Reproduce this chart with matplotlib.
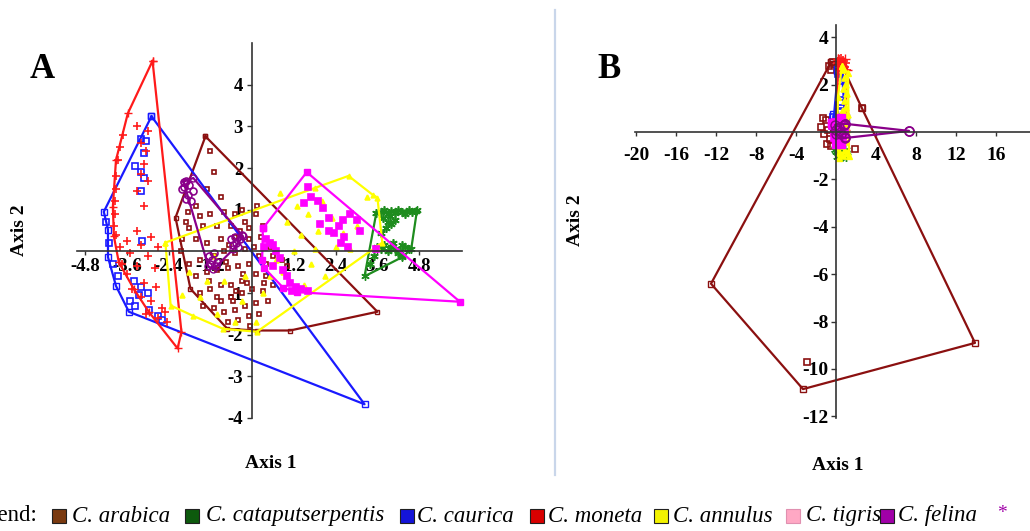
import matplotlib
matplotlib.use("Agg")
import matplotlib.pyplot as plt
from matplotlib.patches import Rectangle
from matplotlib.lines import Line2D

W, H = 1030, 531
plt.rcParams["font.family"] = ["Liberation Serif", "DejaVu Serif"]
plt.rcParams["axes.unicode_minus"] = False

# ---------------- panel A : points + convex hulls ----------------
arabica_x = [-1.2, -1.1, -1.3, -0.9, -1.6, -1.85, -1.5, -1.2, -0.8, -0.5, -0.3, 0.1, 0.15, -0.2, -0.6,
             -1.0, -1.4, -1.8, -2.0, -1.6, -1.3, -0.9, -0.5, -0.1, 0.25, 0.5, 0.6, 0.85, 1.0, 0.4,
             0.2, -0.2, -0.5, -0.8, -1.1, -1.5, -1.8, -1.6, -1.3, -1.0, -0.7, -0.4, -0.1, 0.1, 0.4,
             -0.3, -0.6, -0.9, -1.2, -1.5, -1.0, -0.6, -0.3, 0.0, 0.3, 0.6, 0.45, 0.1, -0.2, -0.5,
             -0.8, -1.1, -0.7, -0.4, -0.1, 0.2, -0.05, -0.9, -1.4, -0.35, -0.1, 0.3, -1.9, -2.05, -0.25,
             0.05, -0.65, -0.75, -0.45, -1.25, 0.35, -0.15, -0.55]
arabica_y = [2.4, 1.9, 1.5, 1.3, 1.1, 0.95, 0.85, 0.9, 0.95, 0.9, 1.0, 0.9, 1.1, 0.7, 0.6,
             0.6, 0.6, 0.55, 0.3, 0.3, 0.2, 0.3, 0.35, 0.3, 0.35, 0.1, -0.1, -0.2, -0.35, -0.3,
             -0.1, 0.05, -0.05, 0.0, -0.1, -0.2, -0.3, -0.6, -0.5, -0.45, -0.4, -0.35, -0.3, -0.55, -0.6,
             -0.7, -0.8, -0.8, -0.9, -1.0, -1.1, -1.1, -1.0, -0.9, -0.95, -0.8, -1.2, -1.25, -1.3, -1.4,
             -1.45, -1.35, -1.7, -1.65, -1.55, -1.5, -1.8, -1.2, -1.3, 0.5, 0.55, 0.6, 0.7, 0.0, -0.55,
             0.1, 0.15, -0.25, -0.95, -0.7, -0.75, -0.75, -1.2]
arabica_hull_x = [-1.34, -2.2, -1.77, -0.71, 0.14, 1.09, 3.6]
arabica_hull_y = [2.76, 0.81, -0.9, -1.86, -1.9, -1.9, -1.45]

cataput_x = [3.7, 3.8, 3.9, 4.0, 4.1, 4.2, 4.3, 4.4, 4.5, 4.6, 4.7, 3.75, 3.9, 3.85, 4.0, 3.7, 4.1,
             3.95, 3.6, 3.7, 3.8, 3.9, 4.0, 4.1, 4.2, 4.3, 4.4, 4.5, 3.5, 3.4, 4.3, 4.05, 4.25]
cataput_y = [0.95, 1.0, 0.9, 0.98, 0.92, 1.0, 0.95, 0.9, 1.0, 0.95, 0.97, 0.8, 0.7, 0.55, 0.65, 0.45, 0.75,
             0.85, 0.1, 0.05, 0.15, 0.0, 0.1, 0.05, -0.05, 0.15, 0.1, 0.05, -0.1, -0.3, -0.1, 0.2, 0.0]
cataput_hull_x = [3.57, 4.74, 4.57, 4.31, 3.23]
cataput_hull_y = [0.93, 1.0, 0.05, -0.14, -0.6]

caurica_x = [-3.2, -3.05, -3.1, -3.35, -3.2, -3.1, -3.2, -3.15, -4.1, -4.0, -3.85, -3.4, -3.2,
             -3.0, -3.25, -3.5, -3.35, -2.95, -2.7, -4.2, -2.6]
caurica_y = [2.7, 2.65, 2.35, 2.05, 1.9, 1.75, 1.45, 0.25, 0.2, -0.3, -0.6, -0.7, -0.85,
             -1.0, -1.05, -1.2, -1.3, -1.4, -1.55, 0.7, -1.65]
caurica_hull_x = [-2.89, -4.26, -4.14, -4.14, -3.91, -3.54, 3.23]
caurica_hull_y = [3.24, 0.95, 0.52, -0.14, -0.83, -1.45, -3.67]

moneta_x = [-3.3, -3.0, -3.7, -3.8, -3.2, -3.05, -3.85, -3.1, -3.2, -3.9, -3.0, -3.92, -3.3, -3.95,
            -3.1, -3.95, -3.98, -3.9, -3.3, -2.9, -3.6, -3.2, -2.7, -3.8, -3.5, -3.0, -3.75, -3.3,
            -2.8, -3.6, -3.1, -2.75, -3.45, -3.2, -2.9, -2.6, -3.05, -2.7, -2.45, -2.5]
moneta_y = [3.0, 2.9, 2.8, 2.5, 2.6, 2.4, 2.2, 2.1, 1.85, 1.8, 1.7, 1.5, 1.45, 1.2,
            1.1, 0.9, 0.6, 0.4, 0.5, 0.35, 0.25, 0.15, 0.1, 0.1, -0.05, -0.1, -0.3, -0.35,
            -0.4, -0.55, -0.75, -0.85, -0.9, -1.1, -1.2, -1.35, -1.5, -1.6, -1.7, -1.45]
moneta_hull_x = [-2.86, -3.57, -3.91, -4.0, -3.97, -3.83, -3.4, -2.97, -2.14, -2.03]
moneta_hull_y = [4.57, 3.31, 2.19, 1.07, 0.36, -0.26, -0.9, -1.45, -2.33, -1.93]

annulus_x = [0.8, 1.3, 1.6, 2.0, 1.0, 1.4, 1.9, 2.3, 2.6, 3.0, 3.3, 2.4, 2.8, 1.8, 1.2, 1.7, 0.9,
             0.5, 0.3, -0.3, -0.8, -1.3, -1.0, -0.5, 0.1, -1.5, -2.0, -1.8, -0.2, 0.7, 3.6, -1.1,
             2.1, 1.5]
annulus_y = [1.4, 1.1, 0.9, 1.2, 0.7, 0.4, 0.5, 0.8, 0.45, 0.6, 1.3, 0.1, 0.05, 0.05, 0.0, -0.3, -0.5,
             -0.6, -1.0, -1.2, -0.7, -0.7, -1.5, -1.7, -1.7, -1.1, -1.05, -0.5, -0.6, -0.2, 0.1, -0.1,
             -0.6, -0.8]
annulus_hull_x = [-2.49, -2.34, -1.69, -0.83, 0.14, 3.74, 3.6, 3.46, 2.77, 1.8]
annulus_hull_y = [0.21, -1.3, -1.55, -1.86, -1.93, 0.21, 1.29, 1.36, 1.81, 1.52]

tigris_x = [1.6, 1.7, 1.9, 1.5, 2.05, 2.6, 2.8, 3.0, 2.2, 2.35, 2.5, 2.65, 2.55, 2.75, 2.2, 1.95,
            3.1, 3.55, 0.4, 0.5, 0.6, 0.35, 0.7, 0.8, 1.0, 1.1, 1.25, 1.4, 0.9, 0.6, 1.15, 1.6]
tigris_y = [1.55, 1.3, 1.2, 1.15, 1.05, 0.75, 0.9, 0.75, 0.5, 0.45, 0.6, 0.35, 0.2, 0.1, 0.8, 0.65,
            0.5, 0.05, 0.3, 0.2, 0.15, 0.1, 0.0, -0.15, -0.6, -0.75, -0.85, -0.9, -0.45, -0.35, -0.95, -0.95]
tigris_hull_x = [0.31, 1.57, 5.97, 1.29, 0.9, 0.35, 0.29]
tigris_hull_y = [0.55, 1.9, -1.21, -0.98, -0.88, -0.4, -0.2]

felina_x = [-2.0, -1.9, -1.8, -1.85, -1.75, -1.9, -1.95, -1.7, -0.6, -0.5, -0.45, -0.35, -0.55,
            -0.4, -0.3, -1.2, -1.15, -1.05, -1.25, -1.1, -1.0]
felina_y = [1.5, 1.7, 1.6, 1.35, 1.2, 1.25, 1.55, 1.45, 0.3, 0.35, 0.2, 0.3, 0.15,
            0.1, 0.4, -0.3, -0.2, -0.35, -0.1, -0.05, -0.25]
felina_hull_x = [-1.97, -1.69, -0.26, -0.54, -1.11, -1.26]
felina_hull_y = [1.67, 1.76, 0.36, 0.05, -0.43, -0.36]

# ---------------- panel B ----------------
b_arabica_x = [-1.3, -1.0, -1.5, -0.8, -1.2, -0.6, -0.9, -0.4, -0.5, -0.2, -0.7, -0.3, -0.5, 1.9, -2.9, 2.6]
b_arabica_y = [0.6, 0.5, 0.2, 0.1, -0.1, -0.3, -0.5, 0.3, -0.6, 0.0, 2.8, 2.95, 2.6, -0.7, -9.7, 1.0]
b_arabica_hull_x = [-0.5, 0.4, 2.6, 13.9, -3.3, -12.5]
b_arabica_hull_y = [2.95, 3.0, 1.0, -8.9, -10.85, -6.4]

b_cataput_x = [0.1, 0.3, 0.5, 0.7, 0.9, 0.4, 0.6]
b_cataput_y = [-0.8, -0.9, -0.85, -0.95, -0.9, -0.7, -1.0]
b_cataput_hull_x = [0.0, 0.9, 1.0, 0.2]
b_cataput_hull_y = [-0.7, -0.75, -1.0, -1.0]

b_caurica_x = [0.3, 0.4, 0.5, 0.6, 0.3, 0.1, 0.6, 0.2, 0.7, -0.2]
b_caurica_y = [2.5, 2.2, 1.3, 1.2, 0.8, 0.5, 0.4, 0.2, 0.6, 0.6]
b_caurica_hull_x = [0.2, 0.6, 0.9, 0.6, -0.3, -0.2]
b_caurica_hull_y = [2.6, 2.5, 0.6, 0.0, 0.3, 0.7]

b_moneta_x = [0.3, 0.5, 0.7, 0.9, 0.4, 0.6, 0.8, 1.0, 0.2, 0.35, 0.6, 0.8, 0.5]
b_moneta_y = [3.05, 3.1, 3.0, 2.9, 2.8, 2.7, 2.75, 2.6, 2.9, 2.6, 0.5, 0.2, -0.1]
b_moneta_hull_x = [0.2, 0.9, 1.1, 0.9, 0.4, 0.1]
b_moneta_hull_y = [3.1, 3.1, 2.6, 0.1, -0.2, 0.5]

b_annulus_x = [0.7, 0.9, 1.0, 0.8, 1.1, 0.9, 1.0, 0.7, 1.2, 0.8, 1.1, 0.6, 1.0, 0.5, 0.9, 1.2, 0.4, 0.7]
b_annulus_y = [2.6, 2.3, 2.0, 1.8, 1.6, 1.3, 1.0, 0.9, 0.7, 0.4, 0.1, -0.2, -0.4, -0.6, -0.8, -0.9, -0.9, -1.0]
b_annulus_hull_x = [0.6, 1.2, 1.3, 0.3, 0.1, 0.2]
b_annulus_hull_y = [2.8, 2.5, -1.0, -1.1, -0.4, 1.5]

b_tigris_x = [-0.3, 0.0, 0.3, 0.1, 0.5, 0.2, 0.6, -0.1, 0.4]
b_tigris_y = [0.3, 0.4, 0.2, -0.1, 0.0, -0.4, -0.3, -0.2, 0.5]
b_tigris_hull_x = [-0.4, 0.5, 0.8, 0.5, 0.0]
b_tigris_hull_y = [0.4, 0.6, 0.0, -0.5, -0.5]

b_felina_x = [0.0, 0.3, 0.5, 7.3, 0.8, 0.9]
b_felina_y = [0.1, 0.2, -0.1, 0.05, 0.3, -0.2]
b_felina_hull_x = [0.9, 7.3, 0.9, 0.0, -0.1]
b_felina_hull_y = [0.35, 0.05, -0.25, -0.1, 0.3]

legend_names = ["C. arabica", "C. cataputserpentis", "C. caurica", "C. moneta",
                "C. annulus", "C. tigris", "C. felina"]
legend_colors = ["#7a3a10", "#0d5a0d", "#1414d8", "#d80000", "#f2f200", "#ffa8c4", "#a000a8"]

# colour, marker, filled, markersize
STYLE = {
    "arabica": ("#8b1010", "s", False, 3.5),
    "cataput": ("#1e8c1e", (6, 2, 0), False, 6),
    "caurica": ("#1a1aff", "s", False, 4.5),
    "moneta": ("#ff1a1a", "+", True, 5.5),
    "annulus": ("#ffff00", "^", True, 3.5),
    "tigris": ("#ff00ff", "s", True, 4),
    "felina": ("#8a008a", "o", False, 5),
}

panel_a = [
    ("arabica", arabica_x, arabica_y, arabica_hull_x, arabica_hull_y),
    ("cataput", cataput_x, cataput_y, cataput_hull_x, cataput_hull_y),
    ("caurica", caurica_x, caurica_y, caurica_hull_x, caurica_hull_y),
    ("moneta", moneta_x, moneta_y, moneta_hull_x, moneta_hull_y),
    ("annulus", annulus_x, annulus_y, annulus_hull_x, annulus_hull_y),
    ("tigris", tigris_x, tigris_y, tigris_hull_x, tigris_hull_y),
    ("felina", felina_x, felina_y, felina_hull_x, felina_hull_y),
]
panel_b = [
    ("arabica", b_arabica_x, b_arabica_y, b_arabica_hull_x, b_arabica_hull_y),
    ("cataput", b_cataput_x, b_cataput_y, b_cataput_hull_x, b_cataput_hull_y),
    ("caurica", b_caurica_x, b_caurica_y, b_caurica_hull_x, b_caurica_hull_y),
    ("moneta", b_moneta_x, b_moneta_y, b_moneta_hull_x, b_moneta_hull_y),
    ("annulus", b_annulus_x, b_annulus_y, b_annulus_hull_x, b_annulus_hull_y),
    ("tigris", b_tigris_x, b_tigris_y, b_tigris_hull_x, b_tigris_hull_y),
    ("felina", b_felina_x, b_felina_y, b_felina_hull_x, b_felina_hull_y),
]

a_xticks = [-4.8, -3.6, -2.4, -1.2, 1.2, 2.4, 3.6, 4.8]
a_yticks = [-4, -3, -2, -1, 1, 2, 3, 4]
b_xticks = [-20, -16, -12, -8, -4, 4, 8, 12, 16]
b_yticks = [-12, -10, -8, -6, -4, -2, 2, 4]


def box(left, top, right, bottom):
    # pixel box -> figure fraction rect
    return [left / W, 1 - bottom / H, (right - left) / W, (bottom - top) / H]


def px(x, y):
    return x / W, 1 - y / H


def draw_groups(ax, groups, lw, grow=1.0):
    for key, x, y, hx, hy in groups:
        col, mk, filled, ms = STYLE[key]
        ms = ms * grow
        fc = col if filled else "none"
        ax.plot(hx + hx[:1], hy + hy[:1], color=col, lw=lw, marker=mk, ms=ms,
                mfc=fc, mec=col, mew=1.0, clip_on=False)
        ax.plot(x, y, ls="none", marker=mk, ms=ms, mfc=fc, mec=col, mew=1.2, clip_on=False)


def cross_axes(ax, xlim, ylim, xticks, yticks, fs, xpad, ypad):
    ax.set_xlim(*xlim)
    ax.set_ylim(*ylim)
    ax.patch.set_alpha(0)
    for s in ("top", "right"):
        ax.spines[s].set_visible(False)
    for s in ("left", "bottom"):
        ax.spines[s].set_position(("data", 0))
        ax.spines[s].set_color("#333333")
        ax.spines[s].set_linewidth(1.2)
    ax.set_xticks(xticks)
    ax.set_xticklabels([f"{t:g}" for t in xticks], fontsize=fs, fontweight="bold")
    ax.set_yticks(yticks)
    ax.set_yticklabels([f"{t:g}" for t in yticks], fontsize=fs, fontweight="bold")
    ax.tick_params(axis="x", direction="out", length=3, width=1, color="#333333", pad=xpad)
    ax.tick_params(axis="y", direction="out", length=3.5, width=1, color="#333333", pad=ypad)


fig = plt.figure(figsize=(W / 100, H / 100), dpi=100)

axA = fig.add_axes(box(77, 43, 462, 418))
draw_groups(axA, panel_a, 1.6)
cross_axes(axA, (-5.03, 6.03), (-4.0, 5.0), a_xticks, a_yticks, 13.5, 2, 3)

axB = fig.add_axes(box(635, 25, 1030, 418))
draw_groups(axB, panel_b, 1.6, grow=1.3)
cross_axes(axB, (-20.1, 19.4), (-12.07, 4.52), b_xticks, b_yticks, 14, 8, 2)

# panel letters and axis titles
bold = dict(fontweight="bold", ha="center", va="center")
fig.text(*px(42, 70), "A", fontsize=25, **bold)
fig.text(*px(609, 69), "B", fontsize=25, **bold)
fig.text(*px(271, 464), "Axis 1", fontsize=14, **bold)
fig.text(*px(20, 230), "Axis 2", fontsize=14, rotation=90, **bold)
fig.text(*px(838, 466), "Axis 1", fontsize=14, **bold)
fig.text(*px(575, 220), "Axis 2", fontsize=14, rotation=90, **bold)

# separator between the panels
fig.add_artist(Line2D([555 / W, 555 / W], [1 - 10 / H, 1 - 475 / H],
                      color="#c9d6ea", lw=1.6, transform=fig.transFigure))

# legend line along the bottom (its start is cropped in the source image)
leg_y = 516
fig.text(*px(37, leg_y), "Legend:", fontsize=16.5, ha="right", va="center")
square_x = [52, 185, 400, 530, 654, 786, 880]
name_x = [72, 206, 417, 548, 673, 806, 898]
for sx, nx, name, col in zip(square_x, name_x, legend_names, legend_colors):
    ec = "#e090b0" if col == "#ffa8c4" else "#202020"
    fig.add_artist(Rectangle(px(sx, leg_y + 7), 14 / W, 14 / H, transform=fig.transFigure,
                             facecolor=col, edgecolor=ec, lw=0.8))
    fig.text(*px(nx, leg_y), name, fontsize=16.5, style="italic", ha="left", va="center")
fig.text(*px(997, leg_y - 3), "*", fontsize=14, color="#a000a8", ha="left", va="center")

fig.savefig("out.png", dpi=100)
